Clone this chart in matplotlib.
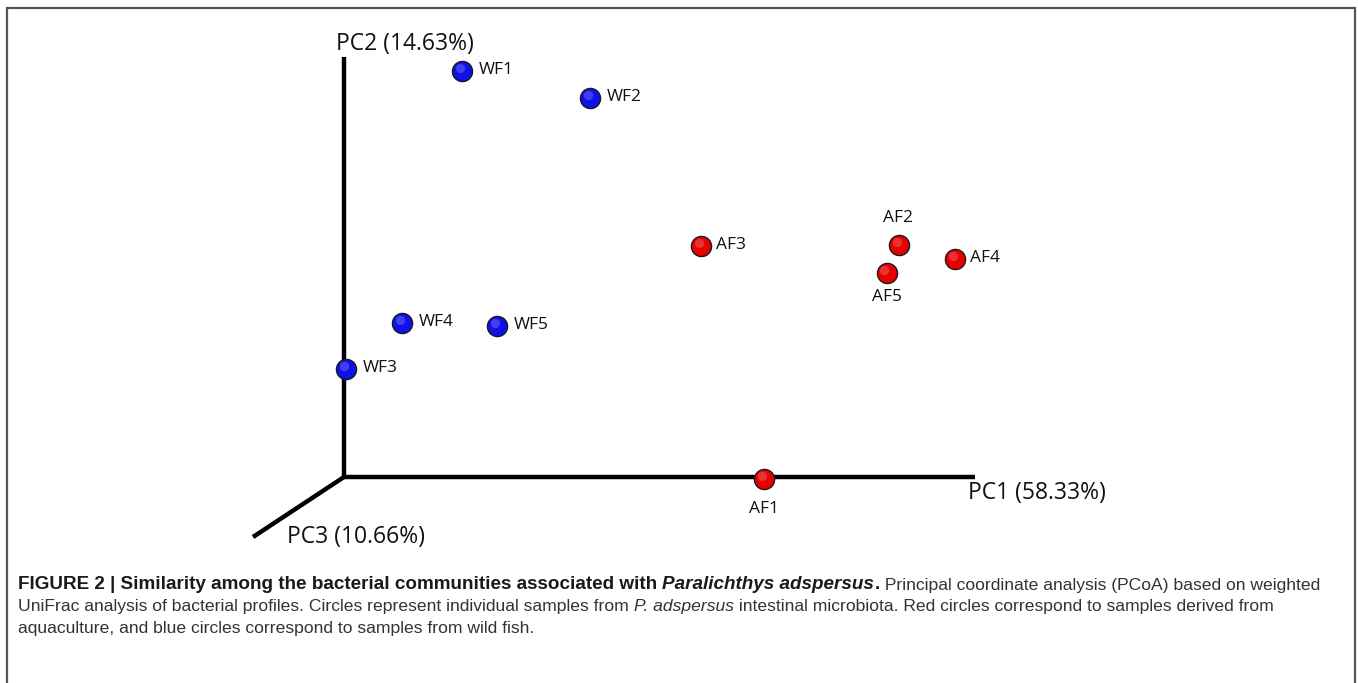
import matplotlib
matplotlib.use("Agg")
import matplotlib.pyplot as plt
from matplotlib.patches import Rectangle

# --- data: PCoA scores (arbitrary units) ---
WILD_LABELS = ["WF1", "WF2", "WF3", "WF4", "WF5"]
WILD_PC1 = [1.18, 2.46, 0.02, 0.58, 1.53]
WILD_PC2 = [4.06, 3.79, 1.08, 1.54, 1.51]

AQUA_LABELS = ["AF1", "AF2", "AF3", "AF4", "AF5"]
AQUA_PC1 = [4.20, 5.55, 3.57, 6.11, 5.43]
AQUA_PC2 = [-0.02, 2.32, 2.31, 2.18, 2.04]

AXIS_LABELS = ["PC1 (58.33%)", "PC2 (14.63%)", "PC3 (10.66%)"]

RED = "#e60000"
BLUE = "#1010e8"

fig = plt.figure(figsize=(13.58, 6.83), dpi=100)
ax = fig.add_axes([0, 0, 1, 1])
ax.set_xlim(-3.44, 10.14)
ax.set_ylim(-2.06, 4.77)
ax.axis("off")

# frame round the figure
fig.patches.append(Rectangle((7 / 1358, -0.01), 1348 / 1358, (683 - 8) / 683 + 0.01,
                             transform=fig.transFigure, fill=False,
                             edgecolor="#555555", linewidth=1.6))

# axes of the 3D view
ax.plot([0, 0], [0, 4.20], color="black", lw=3.2, solid_capstyle="butt")
ax.plot([0, 6.31], [0, 0], color="black", lw=3.2, solid_capstyle="butt")
ax.plot([0, -0.91], [0, -0.60], color="black", lw=3.2, solid_capstyle="butt")

lab_font = dict(family="Open Sans", fontsize=16.5, color="#111111")
ax.text(6.24, -0.16, AXIS_LABELS[0], ha="left", va="center", **lab_font)
ax.text(-0.08, 4.33, AXIS_LABELS[1], ha="left", va="center", **lab_font)
ax.text(-0.57, -0.60, AXIS_LABELS[2], ha="left", va="center", **lab_font)


def spheres(xs, ys, color):
    ax.scatter(xs, ys, s=210, color=color, edgecolor="#1a1a1a", linewidth=1.0, zorder=5)
    ax.scatter([x - 0.025 for x in xs], [y + 0.03 for y in ys], s=45,
               color="white", alpha=0.2, linewidth=0, zorder=6)


spheres(WILD_PC1, WILD_PC2, BLUE)
spheres(AQUA_PC1, AQUA_PC2, RED)

pt_font = dict(family="Open Sans", fontsize=12.5, color="#111111", zorder=7)
for lab, x, y in zip(WILD_LABELS, WILD_PC1, WILD_PC2):
    ax.text(x + 0.17, y + 0.01, lab, ha="left", va="center", **pt_font)

for lab, x, y in zip(AQUA_LABELS, AQUA_PC1, AQUA_PC2):
    if lab == "AF2":
        ax.text(x - 0.01, y + 0.27, lab, ha="center", va="center", **pt_font)
    elif lab == "AF5":
        ax.text(x, y - 0.24, lab, ha="center", va="center", **pt_font)
    elif lab == "AF1":
        ax.text(x, y - 0.30, lab, ha="center", va="center", **pt_font)
    else:
        ax.text(x + 0.15, y + 0.01, lab, ha="left", va="center", **pt_font)

# --- caption ---
line_y = [589, 611, 633]  # baseline pixel rows
x0 = 18 / 1358


def fy(py):
    return 1 - py / 683


def chain(pieces, y):
    prev = None
    for txt, weight, style in pieces:
        if weight == "bold":
            kw = dict(family="Liberation Sans", fontsize=13.6, color="#1a1a1a")
        else:
            kw = dict(family="Liberation Sans", fontsize=12.6, color="#333333")
        if prev is None:
            prev = fig.text(x0, fy(y), txt, ha="left", va="baseline",
                            fontweight=weight, fontstyle=style, **kw)
        else:
            prev = ax.annotate(txt, xy=(1, 0), xycoords=prev, ha="left", va="bottom",
                               fontweight=weight, fontstyle=style, **kw)


chain([("FIGURE 2 | Similarity among the bacterial communities associated with ", "bold", "normal"),
       ("Paralichthys adspersus", "bold", "italic"),
       (".", "bold", "normal"),
       (" Principal coordinate analysis (PCoA) based on weighted", "normal", "normal")], line_y[0])
chain([("UniFrac analysis of bacterial profiles. Circles represent individual samples from ", "normal", "normal"),
       ("P. adspersus", "normal", "italic"),
       (" intestinal microbiota. Red circles correspond to samples derived from", "normal", "normal")], line_y[1])
chain([("aquaculture, and blue circles correspond to samples from wild fish.", "normal", "normal")], line_y[2])

fig.savefig("out.png", dpi=100)
